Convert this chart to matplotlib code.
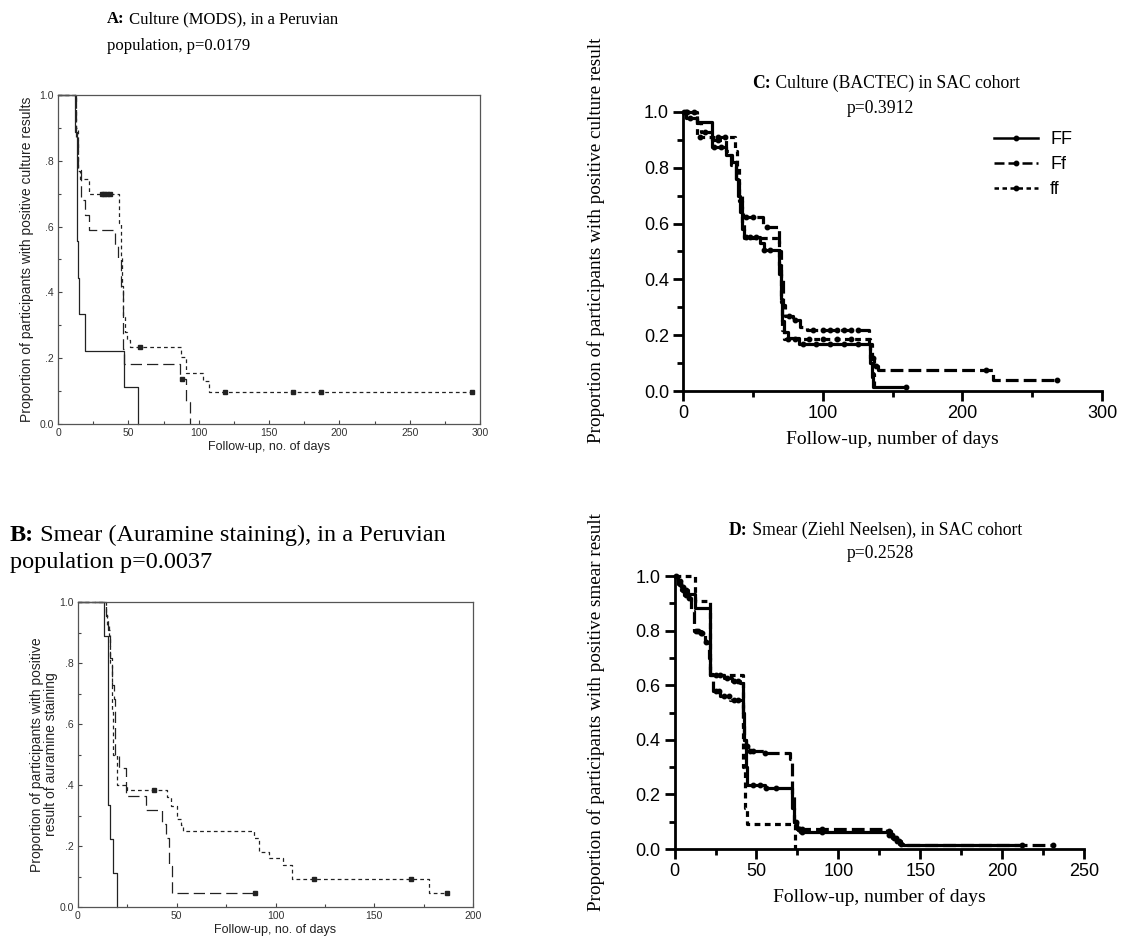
import numpy as np
import matplotlib
matplotlib.use('Agg')
import matplotlib.pyplot as plt
from matplotlib.ticker import MultipleLocator, FixedFormatter, FixedLocator, FormatStrFormatter

plt.rcParams['font.family'] = ['Liberation Sans', 'DejaVu Sans']

W, H = 1121, 947

# ---- panel A : culture (MODS), Peru ----
a_FF_t = [0, 12, 13.5, 14.5, 15, 19.5, 47, 57]
a_FF_s = [1.0, 0.889, 0.556, 0.444, 0.333, 0.222, 0.111, 0.0]
a_FF_end = 57
a_FF_cens = []

a_Ff_t = [0, 13, 14, 16, 19.5, 22, 40.5, 43, 45, 46, 47, 87, 91, 93.5]
a_Ff_s = [1.0, 0.864, 0.773, 0.682, 0.636, 0.591, 0.545, 0.5, 0.409, 0.227, 0.182, 0.136, 0.068, 0.0]
a_Ff_end = 93.5
a_Ff_cens = [88]

a_ff_t = [0, 13, 14, 15.5, 22, 43.5, 44.5, 45.5, 46.5, 47.5, 49, 51, 87.5, 91, 103, 107]
a_ff_s = [1.0, 0.9, 0.77, 0.745, 0.70, 0.61, 0.51, 0.42, 0.325, 0.28, 0.255, 0.234, 0.205, 0.156, 0.13, 0.098]
a_ff_end = 294
a_ff_cens = [31, 33, 35, 37, 58, 118.6, 167, 187, 294]

# ---- panel B : smear (auramine), Peru ----
b_FF_t = [0, 13.2, 15.3, 16.2, 17.8, 19.9]
b_FF_s = [1.0, 0.889, 0.333, 0.222, 0.111, 0.0]
b_FF_end = 19.9
b_FF_cens = []

b_Ff_t = [0, 14.2, 15.2, 16, 17, 18.3, 18.8, 21, 24.4, 34.5, 42.6, 44.5, 46, 47.6]
b_Ff_s = [1.0, 0.955, 0.909, 0.818, 0.727, 0.682, 0.5, 0.455, 0.364, 0.318, 0.273, 0.227, 0.136, 0.045]
b_Ff_end = 89.5
b_Ff_cens = [89.5]

b_ff_t = [0, 14, 14.8, 15.5, 16.3, 17, 17.8, 19.6, 24.6, 45, 47, 50, 52, 53, 89, 91.5, 96.5, 104, 108.6, 177.7]
b_ff_s = [1.0, 0.96, 0.92, 0.88, 0.8, 0.64, 0.5, 0.4, 0.385, 0.36, 0.33, 0.29, 0.27, 0.25, 0.226, 0.18, 0.16, 0.138, 0.092, 0.046]
b_ff_end = 187
b_ff_cens = [38.6, 119.5, 168.5, 187]

# ---- panel C : culture (BACTEC), SAC cohort ----
c_FF_t = [0, 2, 10, 20.6, 31, 35, 38, 39.5, 41, 42.5, 44, 55, 57.7, 69, 70, 71, 72, 75, 83, 134, 135, 135.7]
c_FF_s = [1.0, 0.98, 0.965, 0.876, 0.846, 0.82, 0.76, 0.7, 0.64, 0.58, 0.553, 0.53, 0.505, 0.42, 0.33, 0.25, 0.21, 0.19, 0.168, 0.1, 0.05, 0.015]
c_FF_end = 159.5
c_FF_cens = [1, 5, 22, 27, 45, 48, 52, 58, 62, 86, 95, 105, 115, 125, 159.5]

c_Ff_t = [0, 9.8, 13, 21, 31, 34.7, 38, 40, 42, 43, 57, 69, 70, 71.5, 73, 78.5, 84, 88.6, 133, 135, 137, 139.6, 222]
c_Ff_s = [1.0, 0.96, 0.93, 0.9, 0.86, 0.81, 0.75, 0.68, 0.64, 0.625, 0.589, 0.5, 0.4, 0.31, 0.27, 0.254, 0.23, 0.219, 0.17, 0.12, 0.09, 0.075, 0.04]
c_Ff_end = 268
c_Ff_cens = [2, 16, 25, 45, 50, 60, 76, 80, 93, 100, 105, 110, 115, 120, 125, 136, 138, 217, 268]

c_ff_t = [0, 9.8, 37.4, 38.5, 40, 42, 44, 69, 70, 71, 72.5, 134, 136, 137]
c_ff_s = [1.0, 0.91, 0.86, 0.8, 0.7, 0.6, 0.55, 0.45, 0.32, 0.22, 0.185, 0.12, 0.06, 0.0]
c_ff_end = 137
c_ff_cens = [3, 8, 12, 25, 30, 75, 80, 90, 100, 110, 120]

# ---- panel D : smear (Ziehl Neelsen), SAC cohort ----
d_FF_t = [0, 2, 4, 6, 8, 12.7, 21.9, 30, 35, 40, 41.6, 42.5, 43.5, 44.5, 55, 71.5, 73, 74.5, 76.6, 130.5, 133, 135, 137, 139.7]
d_FF_s = [1.0, 0.98, 0.96, 0.95, 0.935, 0.882, 0.637, 0.625, 0.615, 0.607, 0.5, 0.4, 0.3, 0.236, 0.225, 0.15, 0.1, 0.075, 0.063, 0.05, 0.04, 0.03, 0.02, 0.015]
d_FF_end = 212
d_FF_cens = [3, 5, 7, 25, 28, 32, 36, 39, 48, 52, 56, 62, 76, 78, 90, 131, 132, 134, 136, 138, 212]

d_Ff_t = [0, 2, 4, 6, 8, 10, 12, 16, 18.5, 20.9, 21.9, 23.7, 28, 34, 41.6, 42.5, 43.5, 45, 55, 70.4, 71.5, 73, 75, 130, 132, 134, 136, 138, 140]
d_Ff_s = [1.0, 0.97, 0.95, 0.93, 0.92, 0.87, 0.8, 0.79, 0.76, 0.7, 0.64, 0.58, 0.56, 0.545, 0.45, 0.4, 0.376, 0.36, 0.35, 0.33, 0.2, 0.1, 0.074, 0.065, 0.05, 0.04, 0.03, 0.02, 0.015]
d_Ff_end = 231
d_Ff_cens = [1, 3, 5, 7, 9, 13, 14, 16, 17, 19, 25, 27, 30, 33, 36, 39, 44, 46, 48, 55, 74, 76, 78, 90, 131, 133, 135, 137, 231]

d_ff_t = [0, 12.7, 21.9, 41.6, 43, 44, 73.5]
d_ff_s = [1.0, 0.91, 0.637, 0.3, 0.15, 0.09, 0.0]
d_ff_end = 73.5
d_ff_cens = []

groups = ['FF', 'Ff', 'ff']


def box(l, t, r, b):
    return [l / W, 1 - b / H, (r - l) / W, (b - t) / H]


def km(ax, t, s, end, cens, ls, lw, color, mk, ms):
    x = list(t) + [end]
    y = list(s) + [s[-1]]
    ax.step(x, y, where='post', ls=ls, lw=lw, color=color, clip_on=False)
    if cens:
        idx = np.searchsorted(t, cens, side='right') - 1
        ax.plot(cens, np.array(s)[idx], ls='none', marker=mk, ms=ms, color=color, clip_on=False)


def title(x, y, bold, rest, size):
    t1 = fig.text(x / W, 1 - y / H, bold, fontsize=size, fontweight='bold',
                  family='Liberation Serif', va='baseline', ha='left')
    fig.text(0, 0, '')
    plt.annotate(rest, xy=(1, 0), xycoords=t1, va='bottom', ha='left',
                 fontsize=size, family='Liberation Serif', annotation_clip=False)


fig = plt.figure(figsize=(W / 100, H / 100), dpi=100)

# ---------- SPSS style panels (A, B) ----------
spss_styles = [('-', 'none'), ((0, (9, 4)), 's'), ((0, (3, 2.5)), 's')]


def spss_axes(rect, xmax, ylabel, pad):
    ax = fig.add_axes(rect)
    ax.set_xlim(0, xmax)
    ax.set_ylim(0, 1)
    for sp in ax.spines.values():
        sp.set_color('#555555')
        sp.set_linewidth(0.9)
    ax.xaxis.set_major_locator(MultipleLocator(50))
    ax.xaxis.set_minor_locator(MultipleLocator(25))
    ax.yaxis.set_major_locator(FixedLocator([0, 0.2, 0.4, 0.6, 0.8, 1.0]))
    ax.yaxis.set_major_formatter(FixedFormatter(['0.0', '.2', '.4', '.6', '.8', '1.0']))
    ax.yaxis.set_minor_locator(MultipleLocator(0.1))
    ax.tick_params(which='both', direction='in', length=3, width=0.8, color='#444444',
                   labelsize=7.5, labelcolor='#333333', pad=3)
    ax.tick_params(which='minor', length=2)
    ax.set_xlabel('Follow-up, no. of days', fontsize=9, color='#222222', labelpad=2)
    ax.set_ylabel(ylabel, fontsize=10, color='#222222', labelpad=pad, linespacing=1.0)
    return ax


axA = spss_axes(box(58, 95, 480, 424), 300,
                'Proportion of participants with positive culture results', 4)
for (t, s, e, c), (ls, mk) in zip([(a_FF_t, a_FF_s, a_FF_end, a_FF_cens),
                                   (a_Ff_t, a_Ff_s, a_Ff_end, a_Ff_cens),
                                   (a_ff_t, a_ff_s, a_ff_end, a_ff_cens)], spss_styles):
    km(axA, t, s, e, c, ls, 0.9, '#222222', mk, 3.5)

axB = spss_axes(box(78, 602, 473, 907), 200,
                'Proportion of participants with positive\nresult of auramine staining', 1)
for (t, s, e, c), (ls, mk) in zip([(b_FF_t, b_FF_s, b_FF_end, b_FF_cens),
                                   (b_Ff_t, b_Ff_s, b_Ff_end, b_Ff_cens),
                                   (b_ff_t, b_ff_s, b_ff_end, b_ff_cens)], spss_styles):
    km(axB, t, s, e, c, ls, 0.9, '#222222', mk, 3.5)

# ---------- GraphPad style panels (C, D) ----------
gp_styles = ['-', (0, (4, 1.6)), (0, (1.8, 1.4))]


def gp_axes(rect, xmax, xstep, ylabel, lab_x, lab_y):
    ax = fig.add_axes(rect)
    ax.set_xlim(0, xmax)
    ax.set_ylim(0, 1)
    ax.spines['top'].set_visible(False)
    ax.spines['right'].set_visible(False)
    for sp in ['left', 'bottom']:
        ax.spines[sp].set_linewidth(2)
    ax.xaxis.set_major_locator(MultipleLocator(xstep))
    ax.xaxis.set_minor_locator(MultipleLocator(xstep / 2))
    ax.yaxis.set_major_locator(MultipleLocator(0.2))
    ax.yaxis.set_minor_locator(MultipleLocator(0.1))
    ax.yaxis.set_major_formatter(FormatStrFormatter('%.1f'))
    ax.tick_params(which='major', direction='out', length=7, width=2, labelsize=13, pad=3)
    ax.tick_params(which='minor', direction='out', length=4, width=2)
    ax.set_xlabel('Follow-up, number of days', fontsize=14, family='Liberation Serif', labelpad=6)
    ax.set_ylabel(ylabel, fontsize=13.8, family='Liberation Serif')
    ax.yaxis.set_label_coords(lab_x, lab_y)
    return ax


axC = gp_axes(box(683, 112, 1102, 391), 300, 100,
              'Proportion of participants with positive culture result', -0.186, 0.54)
for g, (t, s, e, c), ls in zip(groups, [(c_FF_t, c_FF_s, c_FF_end, c_FF_cens),
                                        (c_Ff_t, c_Ff_s, c_Ff_end, c_Ff_cens),
                                        (c_ff_t, c_ff_s, c_ff_end, c_ff_cens)], gp_styles):
    km(axC, t, s, e, c, ls, 2.3, 'black', 'o', 3.2)
    axC.plot([], [], ls=ls, lw=1.8, color='black', marker='o', ms=3.2, label=g)
axC.legend(loc='upper left', bbox_to_anchor=((978 - 683) / (1102 - 683), 0.99),
           frameon=False, fontsize=13, handlelength=2.4, handletextpad=0.7, labelspacing=0.45)

axD = gp_axes(box(674.6, 576, 1084, 849), 250, 50,
              'Proportion of participants with positive smear result', -0.17, 0.5)
for (t, s, e, c), ls in zip([(d_FF_t, d_FF_s, d_FF_end, d_FF_cens),
                             (d_Ff_t, d_Ff_s, d_Ff_end, d_Ff_cens),
                             (d_ff_t, d_ff_s, d_ff_end, d_ff_cens)], gp_styles):
    km(axD, t, s, e, c, ls, 2.3, 'black', 'o', 3.2)

# ---------- titles ----------
title(107, 23, 'A:', ' Culture (MODS), in a Peruvian', 12)
fig.text(107 / W, 1 - 50 / H, 'population, p=0.0179', fontsize=12, family='Liberation Serif', va='baseline')

title(10, 541, 'B:', ' Smear (Auramine staining), in a Peruvian', 17.5)
fig.text(10 / W, 1 - 568 / H, 'population p=0.0037', fontsize=17.5, family='Liberation Serif', va='baseline')

title(752, 88, 'C:', ' Culture (BACTEC) in SAC cohort', 12.7)
fig.text(880 / W, 1 - 113 / H, 'p=0.3912', fontsize=12.7, family='Liberation Serif', va='baseline', ha='center')

title(729, 535, 'D:', ' Smear (Ziehl Neelsen), in SAC cohort', 12.7)
fig.text(880 / W, 1 - 558 / H, 'p=0.2528', fontsize=12.7, family='Liberation Serif', va='baseline', ha='center')

fig.savefig('out.png', dpi=100)
